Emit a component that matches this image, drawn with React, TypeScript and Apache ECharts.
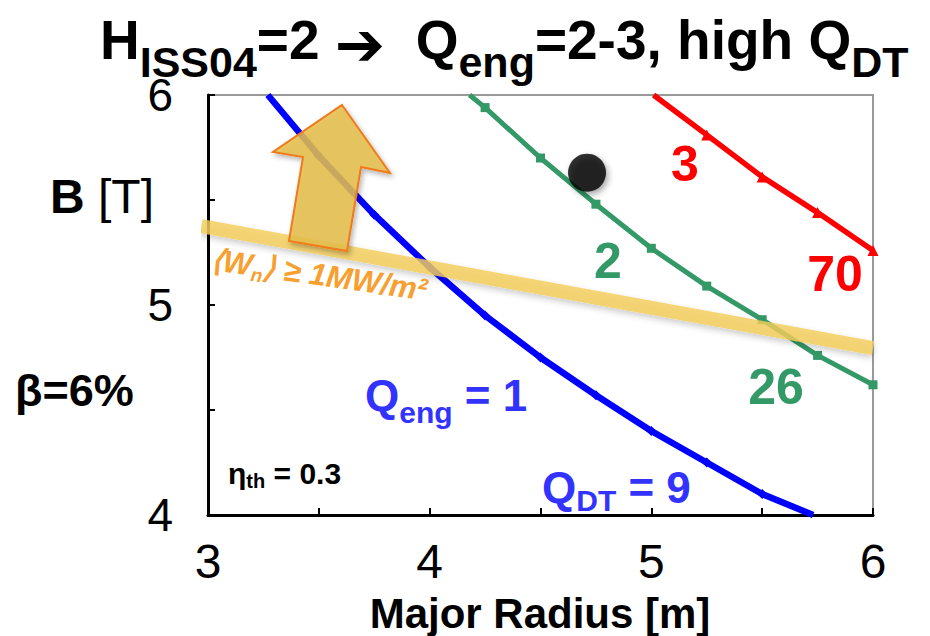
import React, { useEffect, useRef } from "react";
import * as echarts from "echarts";

// ---- data ----
const blueR = [3.27, 3.5, 3.75, 4.0, 4.25, 4.5, 4.75, 5.0, 5.25, 5.5, 5.73];
const blueB = [6.0, 5.71, 5.43, 5.18, 4.95, 4.75, 4.57, 4.4, 4.25, 4.1, 4.0];
const greenR = [4.18, 4.25, 4.5, 4.75, 5.0, 5.25, 5.5, 5.75, 6.0];
const greenB = [6.0, 5.94, 5.7, 5.48, 5.27, 5.09, 4.93, 4.76, 4.62];
const redR = [5.01, 5.25, 5.5, 5.75, 6.0];
const redB = [6.0, 5.81, 5.61, 5.44, 5.26];
const bandR = [2.97, 6.0];
const bandB = [5.376, 4.795];
const pointR = [4.71];
const pointB = [5.63];
const xTicks = [3, 4, 5, 6];
const yTicks = [4, 5, 6];

const FONT = "'Liberation Sans', Arial, Helvetica, sans-serif";

function pairs(xs: number[], ys: number[], hideEnds: boolean[]) {
  return xs.map((x, i) => {
    const hide = (i === 0 && hideEnds[0]) || (i === xs.length - 1 && hideEnds[1]);
    return hide ? { value: [x, ys[i]], symbol: "none" } : { value: [x, ys[i]] };
  });
}

export default function App() {
  const ref = useRef<HTMLDivElement>(null);
  useEffect(() => {
    if (!ref.current) return;
    const chart = echarts.init(ref.current, null, { renderer: "svg" });
    const tickFmt = (list: number[]) => (v: number) =>
      list.some((t) => Math.abs(t - v) < 1e-9) ? String(v) : "";
    const option: any = {
      animation: false,
      backgroundColor: "#fff",
      grid: {
        left: 208,
        right: 57,
        top: 95,
        bottom: 121,
        show: true,
        borderColor: "#9a9a9a",
        borderWidth: 2,
        backgroundColor: "transparent",
      },
      xAxis: {
        type: "value",
        min: 3,
        max: 6,
        interval: 0.5,
        axisLine: { onZero: false, lineStyle: { color: "#000", width: 3 } },
        axisTick: { inside: true, length: 7, lineStyle: { color: "#000", width: 2 } },
        axisLabel: {
          formatter: tickFmt(xTicks),
          fontSize: 48,
          color: "#000",
          fontFamily: FONT,
          margin: 22,
        },
        splitLine: { show: false },
      },
      yAxis: {
        type: "value",
        min: 4,
        max: 6,
        interval: 0.5,
        axisLine: { onZero: false, lineStyle: { color: "#000", width: 3 } },
        axisTick: { inside: true, length: 7, lineStyle: { color: "#000", width: 2 } },
        axisLabel: {
          formatter: tickFmt(yTicks),
          fontSize: 46,
          lineHeight: 36,
          color: "#000",
          fontFamily: FONT,
          margin: 35,
        },
        splitLine: { show: false },
      },
      series: [
        {
          type: "line",
          name: "Qeng=1",
          data: pairs(blueR, blueB, [true, true]),
          lineStyle: { color: "#0000ff", width: 6.5 },
          itemStyle: { color: "#0000ff" },
          symbol: "diamond",
          symbolSize: 10,
          z: 2,
        },
        {
          type: "line",
          name: "Qeng=2",
          data: pairs(greenR, greenB, [true, false]),
          lineStyle: { color: "#339966", width: 5 },
          itemStyle: { color: "#339966" },
          symbol: "rect",
          symbolSize: 9,
          z: 2,
        },
        {
          type: "line",
          name: "Qeng=3",
          data: pairs(redR, redB, [true, false]),
          lineStyle: { color: "#ff0000", width: 5.5 },
          itemStyle: { color: "#ff0000" },
          symbol: "triangle",
          symbolSize: 11,
          z: 2,
        },
        {
          type: "line",
          name: "Wn",
          data: bandR.map((x, i) => [x, bandB[i]]),
          showSymbol: false,
          symbol: "none",
          clip: false,
          lineStyle: {
            color: "rgba(244,206,92,0.82)",
            width: 14,
            shadowColor: "rgba(0,0,0,0.25)",
            shadowBlur: 6,
            shadowOffsetY: 3,
          },
          z: 3,
        },
        {
          type: "scatter",
          name: "point",
          data: pointR.map((x, i) => [x, pointB[i]]),
          symbol: "circle",
          symbolSize: 38,
          itemStyle: {
            color: "#000",
            shadowColor: "rgba(0,0,0,0.45)",
            shadowBlur: 6,
            shadowOffsetX: 2,
            shadowOffsetY: 3,
          },
          z: 4,
        },
      ],
      graphic: [
        // title
        {
          type: "text",
          x: 100,
          y: 12,
          z: 10,
          style: {
            text: "{m|H}{s|ISS04}{m|=2 }{a|\u2794}{m|  Q}{s|eng}{m|=2-3, high Q}{s|DT}",
            textVerticalAlign: "top",
            rich: {
              m: { fontSize: 55, fontWeight: "bold", fontFamily: FONT, fill: "#000", verticalAlign: "top", lineHeight: 56 },
              a: { fontSize: 60, fontWeight: "bold", fontFamily: "'DejaVu Sans', sans-serif", fill: "#000", verticalAlign: "top", lineHeight: 56, padding: [2, 0, 0, 0] },
              s: { fontSize: 43, fontWeight: "bold", fontFamily: FONT, fill: "#000", verticalAlign: "top", lineHeight: 40, padding: [28, 0, 0, 0] },
            },
          },
        },
        // arrow
        {
          type: "polygon",
          z: 20,
          shape: {
            points: [
              [342, 105],
              [390, 173],
              [361, 167],
              [347, 251],
              [289, 241],
              [303, 157],
              [273, 152],
            ],
          },
          style: {
            fill: "rgba(230,192,78,0.85)",
            stroke: "#f07a1a",
            lineWidth: 2,
            shadowColor: "rgba(0,0,0,0.3)",
            shadowBlur: 5,
            shadowOffsetX: 2,
            shadowOffsetY: 3,
          },
        },
        // Wn label
        {
          type: "text",
          x: 211,
          y: 262,
          rotation: -0.14,
          z: 21,
          style: {
            text: "{a|\u27E8W}{n|n}{a|\u27E9 \u2265 1MW/m\u00B2}",
            textVerticalAlign: "middle",
            rich: {
              a: { fontSize: 31, fontWeight: "bold", fontStyle: "italic", fontFamily: FONT, fill: "#f7a030", verticalAlign: "top", lineHeight: 36 },
              n: { fontSize: 19, fontWeight: "bold", fontStyle: "italic", fontFamily: FONT, fill: "#f7a030", verticalAlign: "top", lineHeight: 30, padding: [15, 0, 0, 0] },
            },
          },
        },
        // B [T]
        {
          type: "text",
          x: 50,
          y: 196,
          style: {
            text: "{b|B}{t| [T]}",
            textVerticalAlign: "middle",
            rich: {
              b: { fontSize: 48, fontWeight: "bold", fontFamily: FONT, fill: "#000" },
              t: { fontSize: 48, fontFamily: FONT, fill: "#000" },
            },
          },
        },
        {
          type: "text",
          x: 15,
          y: 390,
          style: { text: "\u03B2=6%", fontSize: 45, fontWeight: "bold", fontFamily: FONT, fill: "#000", textVerticalAlign: "middle" },
        },
        // x axis name
        {
          type: "text",
          x: 540,
          y: 613,
          style: { text: "Major Radius [m]", fontSize: 42, fontWeight: "bold", fontFamily: FONT, fill: "#000", textAlign: "center", textVerticalAlign: "middle" },
        },
        // curve labels
        { type: "text", x: 685, y: 164, z: 10, style: { text: "3", fontSize: 50, fontWeight: "bold", fontFamily: FONT, fill: "#ff0000", textAlign: "center", textVerticalAlign: "middle" } },
        { type: "text", x: 835, y: 274, z: 10, style: { text: "70", fontSize: 50, fontWeight: "bold", fontFamily: FONT, fill: "#ff0000", textAlign: "center", textVerticalAlign: "middle" } },
        { type: "text", x: 608, y: 261, z: 10, style: { text: "2", fontSize: 50, fontWeight: "bold", fontFamily: FONT, fill: "#339966", textAlign: "center", textVerticalAlign: "middle" } },
        { type: "text", x: 776, y: 387, z: 10, style: { text: "26", fontSize: 50, fontWeight: "bold", fontFamily: FONT, fill: "#339966", textAlign: "center", textVerticalAlign: "middle" } },
        {
          type: "text",
          x: 365,
          y: 373,
          z: 10,
          style: {
            text: "{m|Q}{s|eng}{m| = 1}",
            textVerticalAlign: "top",
            rich: {
              m: { fontSize: 44, fontWeight: "bold", fontFamily: FONT, fill: "#3333ff", verticalAlign: "top", lineHeight: 50 },
              s: { fontSize: 30, fontWeight: "bold", fontFamily: FONT, fill: "#3333ff", verticalAlign: "top", lineHeight: 30, padding: [24, 0, 0, 0] },
            },
          },
        },
        {
          type: "text",
          x: 542,
          y: 465,
          z: 10,
          style: {
            text: "{m|Q}{s|DT}{m| = 9}",
            textVerticalAlign: "top",
            rich: {
              m: { fontSize: 44, fontWeight: "bold", fontFamily: FONT, fill: "#3333ff", verticalAlign: "top", lineHeight: 46 },
              s: { fontSize: 30, fontWeight: "bold", fontFamily: FONT, fill: "#3333ff", verticalAlign: "top", lineHeight: 30, padding: [20, 0, 0, 0] },
            },
          },
        },
        {
          type: "text",
          x: 228,
          y: 458,
          z: 10,
          style: {
            text: "{m|\u03B7}{s|th}{m| = 0.3}",
            textVerticalAlign: "top",
            rich: {
              m: { fontSize: 30, fontWeight: "bold", fontFamily: FONT, fill: "#000", verticalAlign: "top", lineHeight: 32 },
              s: { fontSize: 20, fontWeight: "bold", fontFamily: FONT, fill: "#000", verticalAlign: "top", lineHeight: 20, padding: [13, 0, 0, 0] },
            },
          },
        },
      ],
    };
    chart.setOption(option);
    return () => chart.dispose();
  }, []);
  return <div ref={ref} style={{ width: 930, height: 636, position: "absolute", left: 0, top: 0 }} />;
}
